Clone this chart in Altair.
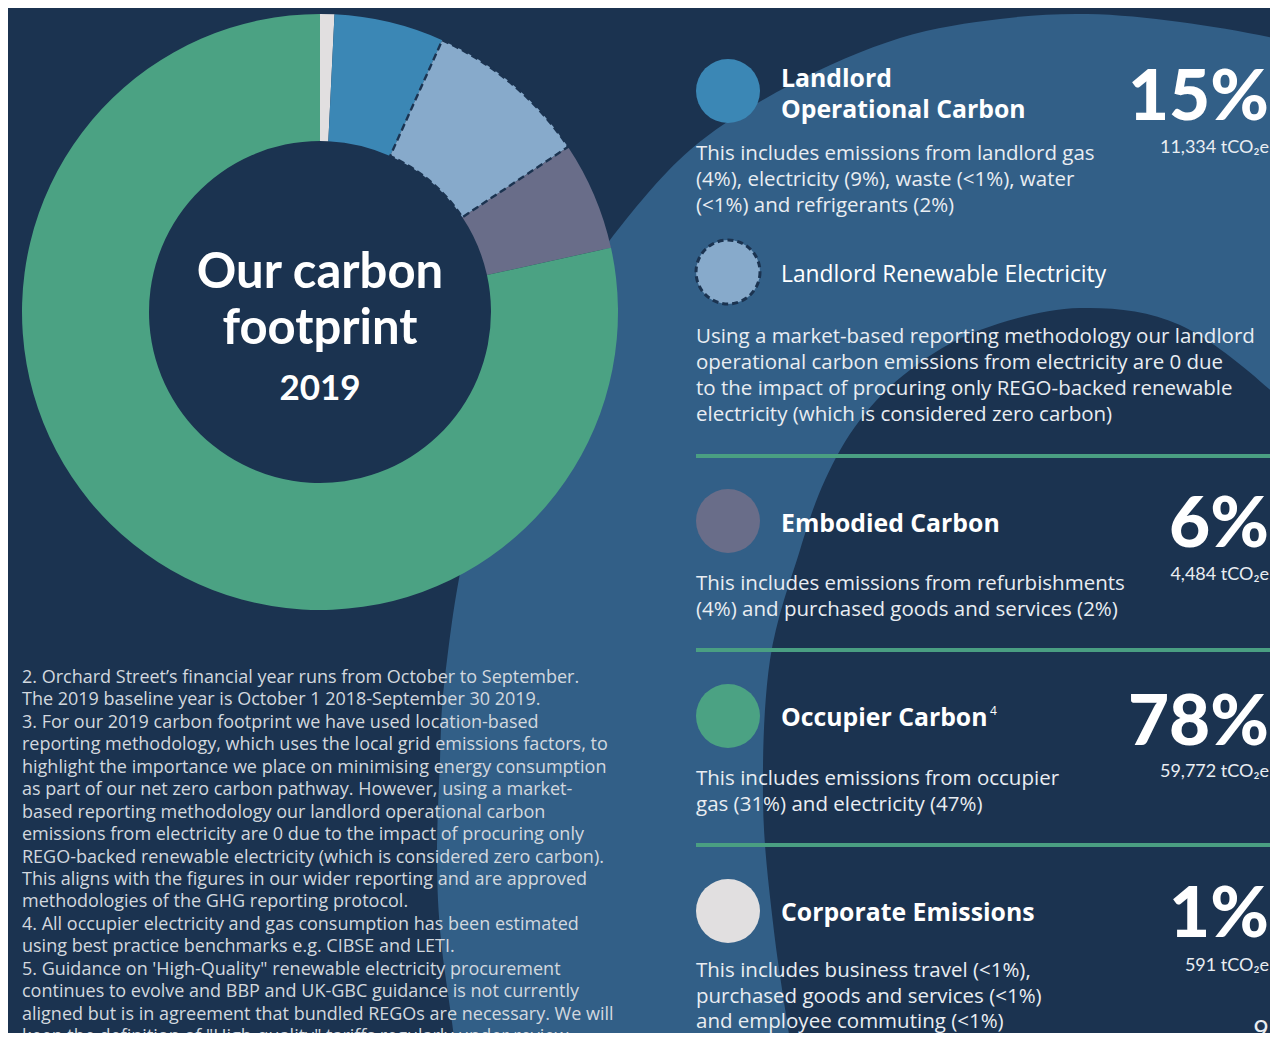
import altair as alt
import pandas as pd

# ---------------- data ----------------
keys = ["corp", "landlord", "renew", "embodied", "occupier"]
categories = ["Corporate Emissions", "Landlord Operational Carbon",
              "Landlord Renewable Electricity", "Embodied Carbon", "Occupier Carbon"]
tco2e = [591, 4534, 6800, 4484, 59772]
colors = ["#e1dfe0", "#3b87b5", "#87aacb", "#696d89", "#4ba283"]

pct_labels = ["15%", "6%", "78%", "1%"]
abs_labels = ["11,334 tCO\u2082e", "4,484 tCO\u2082e", "59,772 tCO\u2082e", "591 tCO\u2082e"]

footnotes = [
    "2. Orchard Street\u2019s financial year runs from October to September.",
    "The 2019 baseline year is October 1 2018-September 30 2019.",
    "3. For our 2019 carbon footprint we have used location-based",
    "reporting methodology, which uses the local grid emissions factors, to",
    "highlight the importance we place on minimising energy consumption",
    "as part of our net zero carbon pathway. However, using a market-",
    "based reporting methodology our landlord operational carbon",
    "emissions from electricity are 0 due to the impact of procuring only",
    "REGO-backed renewable electricity (which is considered zero carbon).",
    "This aligns with the figures in our wider reporting and are approved",
    "methodologies of the GHG reporting protocol.",
    "4. All occupier electricity and gas consumption has been estimated",
    "using best practice benchmarks e.g. CIBSE and LETI.",
    "5. Guidance on 'High-Quality\" renewable electricity procurement",
    "continues to evolve and BBP and UK-GBC guidance is not currently",
    "aligned but is in agreement that bundled REGOs are necessary. We will",
    "keep the definition of \"High-quality\" tariffs regularly under review",
]

# ---------------- layout ----------------
W, H = 1262, 1025
OX, OY = 8, 8
BG = "#1b3350"
RING = "#325f87"
WHITE = "#ffffff"
BODY = "#e9edf2"
NOTE = "#d2d8df"
FONT = "Open Sans"
FONT2 = "Lato"


def px(x):
    return x - OX


def py(y):
    return y - OY


def smooth_path(pts, tail):
    pts = [(px(x), py(y)) for x, y in pts]
    d = "M%.1f %.1f" % pts[0]
    n = len(pts)
    for i in range(n - 1):
        pp = pts[i - 1] if i > 0 else pts[i]
        p0, p1 = pts[i], pts[i + 1]
        pn = pts[i + 2] if i + 2 < n else pts[i + 1]
        c1 = (p0[0] + (p1[0] - pp[0]) / 6, p0[1] + (p1[1] - pp[1]) / 6)
        c2 = (p1[0] - (pn[0] - p0[0]) / 6, p1[1] - (pn[1] - p0[1]) / 6)
        d += " C%.1f %.1f %.1f %.1f %.1f %.1f" % (c1 + c2 + p1)
    for x, y in tail:
        d += " L%.1f %.1f" % (px(x), py(y))
    return d + " Z"


outer_pts = [(462, 1110), (453, 1030), (441, 940), (437, 860), (440, 760), (445, 677),
             (467, 543), (515, 410), (565, 310), (610, 240), (690, 150), (790, 85),
             (900, 38), (1000, 19), (1087, 14), (1180, 22), (1278, 39), (1360, 62)]
outer_tail = [(1420, 62), (1420, 1110)]
inner_pts = [(800, 1110), (790, 1041), (773, 923), (763, 800), (770, 660), (800, 550),
             (825, 480), (860, 420), (910, 370), (980, 330), (1080, 308), (1180, 325),
             (1278, 397), (1340, 470)]
inner_tail = [(1420, 470), (1420, 1110)]

one = alt.Data(values=[{"a": 1}])


def shape_layer(path, color):
    return alt.Chart(one).mark_point(shape=path, size=4, filled=True, fill=color,
                                     opacity=1, strokeWidth=0).encode(
        x=alt.value(0), y=alt.value(0))


def text_layer(s, x, y, size, weight="normal", align="left", color=WHITE, lh=None, font=FONT):
    kw = dict(align=align, baseline="alphabetic", fontSize=size, fontWeight=weight,
              color=color, font=font)
    if "\n" in s:
        kw.update(lineBreak="\n", lineHeight=lh)
    return alt.Chart(alt.Data(values=[{"t": s}])).mark_text(**kw).encode(
        x=alt.value(px(x)), y=alt.value(py(y)), text="t:N")


color_scale = alt.Scale(domain=keys, range=colors)
is_renew = alt.datum.key == "renew"

donut_df = pd.DataFrame({"key": keys, "cat": categories, "v": tco2e, "idx": list(range(len(keys)))})
CX, CY, R_OUT, R_IN = 320, 312, 298, 171

donut = alt.Chart(donut_df).mark_arc(innerRadius=R_IN, outerRadius=R_OUT).encode(
    theta=alt.Theta("v:Q", stack=True),
    order=alt.Order("idx:Q"),
    color=alt.Color("key:N", scale=color_scale, legend=None),
    x=alt.value(px(CX)), y=alt.value(py(CY)),
)
donut_edge = alt.Chart(donut_df).transform_joinaggregate(
    total="sum(v)"
).transform_window(
    cum="sum(v)", sort=[alt.SortField("idx")], frame=[None, 0]
).transform_calculate(
    t0="2*PI*(datum.cum - datum.v)/datum.total",
    t1="2*PI*datum.cum/datum.total",
).transform_filter(is_renew).mark_arc(
    innerRadius=R_IN, outerRadius=R_OUT, fillOpacity=0, stroke=BG,
    strokeWidth=2.4, strokeDash=[7, 4]
).encode(
    theta=alt.Theta("t0:Q", scale=None, stack=False),
    theta2="t1:Q",
    x=alt.value(px(CX)), y=alt.value(py(CY)),
)

icon_keys = ["landlord", "renew", "embodied", "occupier", "corp"]
icon_y = [91, 272, 521, 716, 911]
icon_df = pd.DataFrame({"key": icon_keys, "yy": [py(v) for v in icon_y]})
icons = alt.Chart(icon_df).mark_point(shape="circle", size=4096, filled=True, opacity=1).encode(
    x=alt.value(px(728)),
    y=alt.Y("yy:Q", scale=None),
    color=alt.Color("key:N", scale=color_scale, legend=None),
    stroke=alt.condition(is_renew, alt.value(BG), alt.value("transparent")),
    strokeWidth=alt.condition(is_renew, alt.value(3), alt.value(0)),
    strokeDash=alt.condition(is_renew, alt.value([6, 4]), alt.value([1, 0])),
)

rule_df = pd.DataFrame({"yy": [py(456), py(650), py(845)]})
rules = alt.Chart(rule_df).mark_rule(color="#4a9f82", strokeWidth=4).encode(
    x=alt.value(px(696)), x2=alt.value(W), y=alt.Y("yy:Q", scale=None))

TS = 24.8   # title size
BS = 20.5   # body size
texts = [
    text_layer("Our carbon", 320, 288, 49, "bold", "center", font=FONT2),
    text_layer("footprint", 320, 344, 49, "bold", "center", font=FONT2),
    text_layer("2019", 320, 400, 35, "bold", "center", font=FONT2),
    text_layer("\n".join(footnotes), 22, 683, 18, "normal", "left", NOTE, 22.45),
    # right column
    text_layer("Landlord", 781, 87, TS, "bold"),
    text_layer("Operational Carbon", 781, 118, TS, "bold"),
    text_layer("This includes emissions from landlord gas\n(4%), electricity (9%), waste (<1%), water\n(<1%) and refrigerants (2%)",
               696, 160, BS, "normal", "left", BODY, 26),
    text_layer("Landlord Renewable Electricity", 781, 282, 22.8, "normal"),
    text_layer("Using a market-based reporting methodology our landlord\noperational carbon emissions from electricity are 0 due\nto the impact of procuring only REGO-backed renewable\nelectricity (which is considered zero carbon)",
               696, 343, BS, "normal", "left", BODY, 26),
    text_layer("Embodied Carbon", 781, 532, TS, "bold"),
    text_layer("This includes emissions from refurbishments\n(4%) and purchased goods and services (2%)",
               696, 590, BS, "normal", "left", BODY, 26),
    text_layer("Occupier Carbon", 781, 726, TS, "bold"),
    text_layer("4", 990, 715, 12, "normal"),
    text_layer("This includes emissions from occupier\ngas (31%) and electricity (47%)",
               696, 785, BS, "normal", "left", BODY, 26),
    text_layer("Corporate Emissions", 781, 921, TS, "bold"),
    text_layer("This includes business travel (<1%),\npurchased goods and services (<1%)\nand employee commuting (<1%)",
               696, 977, BS, "normal", "left", BODY, 25.5),
    text_layer("9", 1269, 1040, 27, "normal", "right", BODY, font=FONT2),
]
pct_base = [120, 547, 745, 937]
abs_base = [153, 580, 777, 971]
for lab, b in zip(pct_labels, pct_base):
    texts.append(text_layer(lab, 1269, b, 71, 900, "right", font=FONT2))
for lab, b in zip(abs_labels, abs_base):
    texts.append(text_layer(lab, 1269, b, 18, "normal", "right", BODY, font=FONT2))

chart = alt.layer(
    shape_layer(smooth_path(outer_pts, outer_tail), RING),
    shape_layer(smooth_path(inner_pts, inner_tail), BG),
    donut, donut_edge, rules, icons, *texts,
).properties(
    width=W, height=H, background=BG, padding=0, autosize="none"
).configure_view(stroke=None)

chart.save("out.html", embed_options={"renderer": "svg", "actions": False})
